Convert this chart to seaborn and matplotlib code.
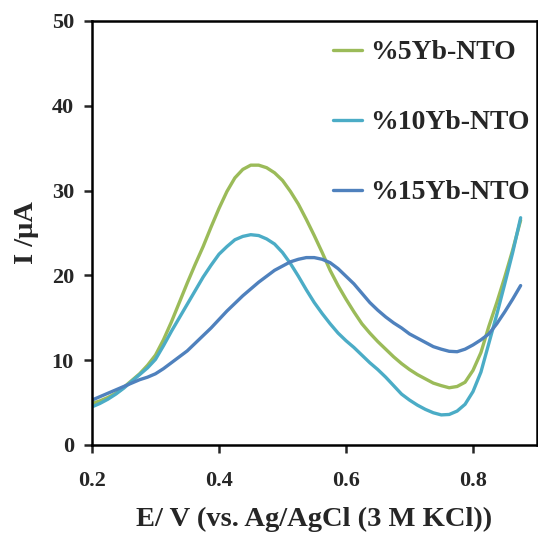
import numpy as np
import pandas as pd
import matplotlib
matplotlib.use("Agg")
import matplotlib.pyplot as plt
import seaborn as sns

# ---- data ----
potential = [0.2000, 0.2125, 0.2250, 0.2375, 0.2500, 0.2625, 0.2750, 0.2875, 0.3000, 0.3125,
             0.3250, 0.3375, 0.3500, 0.3625, 0.3750, 0.3875, 0.4000, 0.4125, 0.4250, 0.4375,
             0.4500, 0.4625, 0.4750, 0.4875, 0.5000, 0.5125, 0.5250, 0.5375, 0.5500, 0.5625,
             0.5750, 0.5875, 0.6000, 0.6125, 0.6250, 0.6375, 0.6500, 0.6625, 0.6750, 0.6875,
             0.7000, 0.7125, 0.7250, 0.7375, 0.7500, 0.7625, 0.7750, 0.7875, 0.8000, 0.8125,
             0.8250, 0.8375, 0.8500, 0.8625, 0.8750]
yb5 = [4.9, 5.2, 5.6, 6.1, 6.8, 7.6, 8.4, 9.4, 10.6, 12.4,
       14.5, 16.8, 19.1, 21.3, 23.4, 25.7, 27.9, 29.9, 31.5, 32.5,
       33.0, 33.0, 32.7, 32.1, 31.2, 29.9, 28.4, 26.6, 24.7, 22.7,
       20.6, 18.8, 17.2, 15.7, 14.3, 13.2, 12.2, 11.3, 10.4, 9.6,
       8.9, 8.3, 7.8, 7.3, 7.0, 6.75, 6.9, 7.4, 8.8, 10.9,
       14.0, 16.8, 19.8, 23.0, 26.5]
yb10 = [4.5, 4.9, 5.4, 6.0, 6.7, 7.5, 8.3, 9.1, 10.1, 11.7,
        13.4, 15.0, 16.6, 18.2, 19.8, 21.2, 22.5, 23.4, 24.2, 24.6,
        24.8, 24.7, 24.3, 23.7, 22.7, 21.4, 19.9, 18.3, 16.8, 15.5,
        14.3, 13.2, 12.3, 11.5, 10.6, 9.7, 8.9, 8.0, 7.0, 6.0,
        5.3, 4.7, 4.2, 3.8, 3.55, 3.6, 4.0, 4.8, 6.3, 8.6,
        12.0, 15.4, 19.0, 22.7, 26.8]
yb15 = [5.3, 5.7, 6.1, 6.5, 6.9, 7.3, 7.7, 8.0, 8.4, 9.0,
        9.7, 10.4, 11.1, 12.0, 12.9, 13.8, 14.8, 15.8, 16.7, 17.6,
        18.4, 19.2, 19.9, 20.6, 21.1, 21.6, 21.9, 22.1, 22.1, 21.9,
        21.5, 20.8, 19.9, 19.0, 17.9, 16.8, 15.9, 15.1, 14.4, 13.8,
        13.1, 12.6, 12.1, 11.6, 11.3, 11.05, 11.0, 11.3, 11.8, 12.4,
        13.1, 14.3, 15.7, 17.2, 18.8]
series_names = ["%5Yb-NTO", "%10Yb-NTO", "%15Yb-NTO"]
colors = ["#9BBB59", "#4BACC6", "#4F81BD"]
xticks = [0.2, 0.4, 0.6, 0.8]
yticks = [0, 10, 20, 30, 40, 50]

df = pd.concat([
    pd.DataFrame({"E": potential, "I": vals, "series": name})
    for name, vals in zip(series_names, [yb5, yb10, yb15])
], ignore_index=True)

sns.set_style("ticks")
plt.rcParams["font.family"] = ["Liberation Serif", "DejaVu Serif"]
plt.rcParams["font.weight"] = "bold"

fig = plt.figure(figsize=(5.38, 5.33), dpi=100)
ax = fig.add_axes([92/538, 1-445/533, (536.5-92)/538, (445-21)/533])

sns.lineplot(data=df, x="E", y="I", hue="series", hue_order=series_names,
             palette=dict(zip(series_names, colors)), estimator=None, sort=False,
             linewidth=2.4, ax=ax)
for ln in ax.get_lines():
    ln.set_solid_joinstyle("round")
    ln.set_solid_capstyle("round")

ax.set_xlim(0.2, 0.9)
ax.set_ylim(0, 50)
ax.set_xticks(xticks)
ax.set_xticklabels([f"{t:.1f}" for t in xticks])
ax.set_yticks(yticks)
ax.set_yticklabels([str(t) for t in yticks])
ax.tick_params(axis="both", direction="out", length=6, width=1.8, labelsize=16, pad=7)
ax.tick_params(axis="x", pad=13)
for lab in ax.get_xticklabels() + ax.get_yticklabels():
    lab.set_fontweight("bold")
for s in ax.spines.values():
    s.set_linewidth(1.8)
    s.set_color("black")

ax.set_xlabel("E/ V (vs. Ag/AgCl (3 M KCl))", fontsize=20.5, fontweight="bold", labelpad=11)
ax.set_ylabel("I /\u03bcA", fontsize=20.5, fontweight="bold", labelpad=9)

ax.legend_.remove()
handles = ax.get_lines()[:3]
leg = fig.legend(handles, series_names, loc="upper left",
                 bbox_to_anchor=(333/538, 1-40/533), frameon=False, borderaxespad=0,
                 prop={"family": "Liberation Serif", "weight": "bold", "size": 20},
                 handlelength=1.05, handletextpad=0.3, labelspacing=1.6, borderpad=0)

fig.savefig("out.png", dpi=100)
